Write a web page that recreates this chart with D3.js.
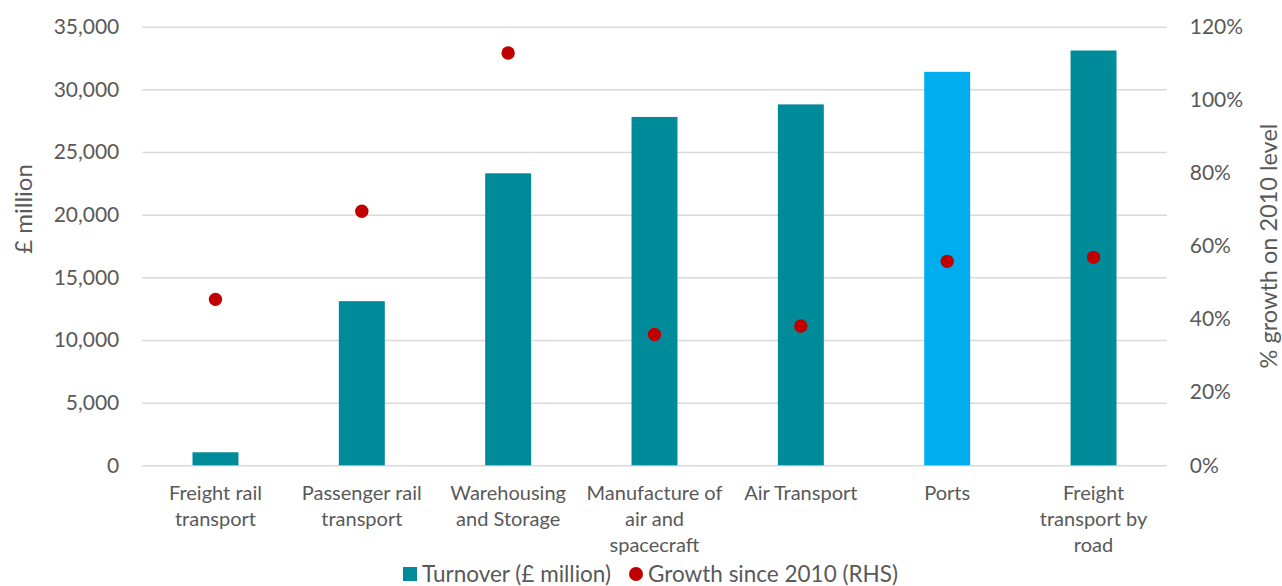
<!DOCTYPE html>
<html>
<head>
<meta charset="utf-8">
<script src="https://cdn.jsdelivr.net/npm/d3@7"></script>
<style>
  html, body { margin: 0; padding: 0; background: #ffffff; }
  svg { display: block; }
  text { font-family: Lato, "Open Sans", sans-serif; fill: #595959; }
</style>
</head>
<body>
<svg id="chart" width="1282" height="586"></svg>
<script>
// Sector categories (line breaks mark where each axis label wraps)
const categories = [
  "Freight rail\ntransport",
  "Passenger rail\ntransport",
  "Warehousing\nand Storage",
  "Manufacture of\nair and\nspacecraft",
  "Air Transport",
  "Ports",
  "Freight\ntransport by\nroad"
];
// Turnover, £ million (left axis)
const turnover = [1040, 13100, 23300, 27800, 28800, 31400, 33100];
// Growth since 2010, % (right axis)
const growth = [45.4, 69.5, 112.8, 35.8, 38.1, 55.8, 56.9];
// Highlighted sector
const highlight = "Ports";

const leftTicks = [0, 5000, 10000, 15000, 20000, 25000, 30000, 35000];
const rightTicks = [0, 20, 40, 60, 80, 100, 120];

const svg = d3.select("#chart");
const plot = { left: 142.3, right: 1166.7, top: 26.7, bottom: 465.3 };

const x = d3.scaleBand()
  .domain(categories)
  .range([plot.left, plot.right])
  .paddingInner(0.686)
  .paddingOuter(0.343);

const yL = d3.scaleLinear().domain([0, 35000]).range([plot.bottom, plot.top]);
const yR = d3.scaleLinear().domain([0, 120]).range([plot.bottom, plot.top]);

const teal = "#008b9a";
const blue = "#00aeef";
const red = "#c00000";

// Horizontal gridlines
const grid = svg.append("g")
  .attr("transform", `translate(${plot.left},0)`)
  .call(d3.axisLeft(yL).tickValues(leftTicks).tickSize(-(plot.right - plot.left)).tickFormat(""));
grid.select(".domain").remove();
grid.selectAll(".tick line").attr("stroke", "#d9d9d9").attr("stroke-width", 1.5);

// Left axis labels
const axL = svg.append("g")
  .attr("transform", `translate(${plot.left},0)`)
  .call(d3.axisLeft(yL).tickValues(leftTicks).tickSize(0).tickPadding(23).tickFormat(d3.format(",")));
axL.select(".domain").remove();
axL.selectAll("text").style("font-size", "21px").attr("fill", "#595959").style("font-family", "Lato, sans-serif");

// Right axis labels
const axR = svg.append("g")
  .attr("transform", `translate(${plot.right},0)`)
  .call(d3.axisRight(yR).tickValues(rightTicks).tickSize(0).tickPadding(23).tickFormat(d => d + "%"));
axR.select(".domain").remove();
axR.selectAll("text").style("font-size", "21px").attr("fill", "#595959").style("font-family", "Lato, sans-serif");

// Bars
svg.append("g").selectAll("rect")
  .data(categories)
  .join("rect")
  .attr("x", d => x(d))
  .attr("width", x.bandwidth())
  .attr("y", (d, i) => yL(turnover[i]))
  .attr("height", (d, i) => yL(0) - yL(turnover[i]))
  .attr("fill", d => d === highlight ? blue : teal);

// Growth markers
svg.append("g").selectAll("circle")
  .data(categories)
  .join("circle")
  .attr("cx", d => x(d) + x.bandwidth() / 2)
  .attr("cy", (d, i) => yR(growth[i]))
  .attr("r", 6.7)
  .attr("fill", red);

// Category labels
const axX = svg.append("g")
  .attr("transform", `translate(0,${plot.bottom})`)
  .call(d3.axisBottom(x).tickSize(0).tickFormat(""));
axX.select(".domain").remove();
axX.selectAll(".tick").each(function(d) {
  const lines = d.split("\n");
  const t = d3.select(this).append("text")
    .attr("text-anchor", "middle")
    .attr("fill", "#595959")
    .style("font-size", "20px");
  lines.forEach((line, i) => {
    t.append("tspan").attr("x", 0).attr("y", 35 + i * 26).text(line);
  });
});

// Axis titles
svg.append("text")
  .attr("transform", "translate(32,209) rotate(-90)")
  .attr("text-anchor", "middle")
  .style("font-size", "24px")
  .text("£ million");

svg.append("text")
  .attr("transform", "translate(1277,246) rotate(-90)")
  .attr("text-anchor", "middle")
  .style("font-size", "23.5px")
  .text("% growth on 2010 level");

// Legend
const legend = svg.append("g");
legend.append("rect").attr("x", 403).attr("y", 567).attr("width", 14).attr("height", 14).attr("fill", teal);
legend.append("text").attr("x", 422).attr("y", 582).style("font-size", "22.5px").text("Turnover (£ million)");
legend.append("circle").attr("cx", 636).attr("cy", 574).attr("r", 7).attr("fill", red);
legend.append("text").attr("x", 648).attr("y", 582).style("font-size", "22.5px").text("Growth since 2010 (RHS)");
</script>
</body>
</html>
